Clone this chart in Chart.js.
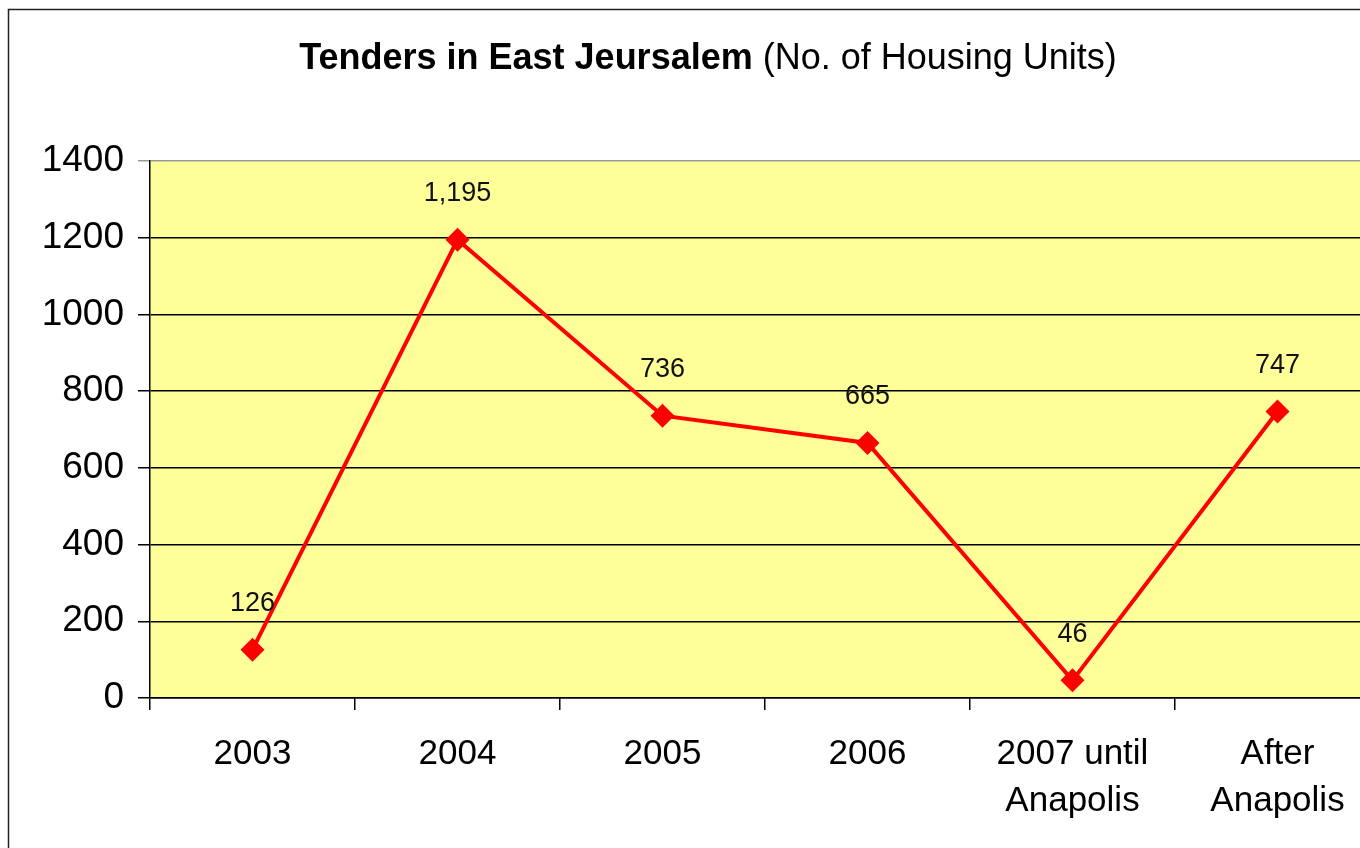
<!DOCTYPE html>
<html>
  <head>
    <meta charset="utf-8">
    <title>Tenders in East Jerusalem</title>
    <style>
      html, body { margin: 0; padding: 0; background: #fff; overflow: hidden; }
    </style>
  </head>
  <body>
    <canvas id="MyCanvas" width="1392" height="848"></canvas>
    <script src="https://cdn.jsdelivr.net/npm/chart.js@4/dist/chart.umd.min.js"></script>
    <script>
      // data
      const categories = ["2003", "2004", "2005", "2006", ["2007 until", "Anapolis"], ["After", "Anapolis"]];
      const units = [126, 1195, 736, 665, 46, 747];
      const yTicks = [0, 200, 400, 600, 800, 1000, 1200, 1400];

      const FONT = "'Liberation Sans', Arial, sans-serif";

      // yellow plot area, outer frame and the two-part title
      const decor = {
        id: 'decor',
        beforeDraw(chart) {
          const c = chart.ctx, a = chart.chartArea;
          c.save();
          c.fillStyle = '#FFFF99';
          c.fillRect(a.left, a.top, a.right - a.left, a.bottom - a.top);
          c.strokeStyle = '#222';
          c.lineWidth = 1.5;
          c.strokeRect(8.5, 9.5, chart.width + 20, chart.height + 20);

          const bold = 'Tenders in East Jeursalem';
          const rest = ' (No. of Housing Units)';
          c.textBaseline = 'middle';
          c.font = 'bold 36px ' + FONT;
          const w1 = c.measureText(bold).width;
          c.font = '36px ' + FONT;
          const w2 = c.measureText(rest).width;
          const x = 708 - (w1 + w2) / 2;
          c.fillStyle = '#000';
          c.textAlign = 'left';
          c.font = 'bold 36px ' + FONT;
          c.fillText(bold, x, 59);
          c.font = '36px ' + FONT;
          c.fillText(rest, x + w1, 59);
          c.restore();
        },
        afterDatasetsDraw(chart) {
          const c = chart.ctx;
          const meta = chart.getDatasetMeta(0);
          c.save();
          c.font = '27px ' + FONT;
          c.fillStyle = '#111';
          c.textAlign = 'center';
          c.textBaseline = 'middle';
          meta.data.forEach((pt, i) => {
            c.fillText(units[i].toLocaleString('en-US'), pt.x, pt.y - 46);
          });
          c.restore();
        }
      };

      const ctx = document.getElementById('MyCanvas').getContext('2d');
      const myChart = new Chart(ctx, {
        type: 'line',
        data: {
          labels: categories,
          datasets: [{
            label: 'Tenders',
            data: units,
            borderColor: '#FF0000',
            backgroundColor: '#FF0000',
            borderWidth: 4,
            pointStyle: 'rectRot',
            pointRadius: 12,
            pointHoverRadius: 12,
            pointBorderWidth: 0,
            tension: 0
          }]
        },
        options: {
          responsive: false,
          animation: false,
          events: [],
          layout: { padding: { top: 161, left: 0, right: 1, bottom: 0 } },
          plugins: {
            legend: { display: false },
            title: { display: false },
            tooltip: { enabled: false }
          },
          scales: {
            x: {
              offset: true,
              grid: {
                offset: true,
                drawOnChartArea: false,
                color: '#000',
                lineWidth: 1.5,
                tickLength: 12
              },
              border: { color: '#000', width: 1.5 },
              ticks: {
                color: '#000',
                font: { family: FONT, size: 35, lineHeight: 1.34 },
                padding: 21,
                maxRotation: 0,
                autoSkip: false
              },
              afterFit(scale) { scale.height = 150; }
            },
            y: {
              min: 0,
              max: 1400,
              afterBuildTicks(scale) { scale.ticks = yTicks.map(v => ({ value: v })); },
              grid: {
                color: c => (c.tick && c.tick.value === 1400 ? '#999' : '#000'),
                lineWidth: 1.5,
                tickLength: 12
              },
              border: { color: '#000', width: 1.5 },
              ticks: {
                color: '#000',
                font: { family: FONT, size: 37 },
                padding: 14,
                callback: v => String(v)
              },
              afterFit(scale) { scale.width = 150; }
            }
          }
        },
        plugins: [decor]
      });
    </script>
  </body>
</html>
